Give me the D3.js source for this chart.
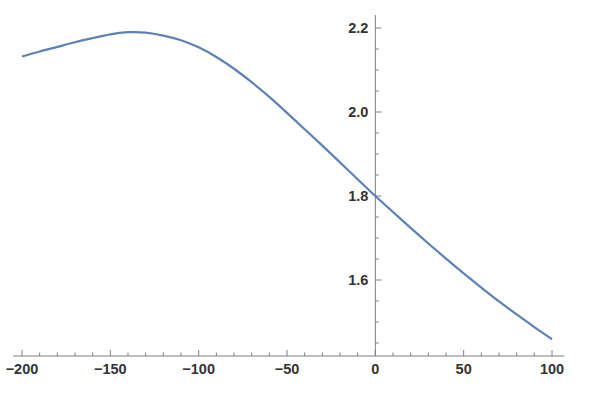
<!DOCTYPE html>
<html lang="en">
<head>
	<meta charset="UTF-8">
	<title>Curve</title>
	<script src="https://cdn.jsdelivr.net/npm/d3@7"></script>
	<style>
		body { margin: 0; background: #fff; }
		text { font-family: "Liberation Sans", Arial, sans-serif; font-weight: bold; font-size: 14.5px; fill: #333; }
	</style>
</head>
<body>
	<div id="container"></div>
	<script>
		var width = 607;
		var height = 404;

		// values, step 10
		var xs = [-200, -190, -180, -170, -160, -150, -140, -130, -120, -110, -100,
			-90, -80, -70, -60, -50, -40, -30, -20, -10, 0,
			10, 20, 30, 40, 50, 60, 70, 80, 90, 100];
		var ys = [2.132, 2.144, 2.155, 2.166, 2.176, 2.185, 2.190, 2.189, 2.182, 2.171, 2.154,
			2.131, 2.103, 2.071, 2.036, 1.998, 1.959, 1.920, 1.880, 1.840, 1.800,
			1.762, 1.724, 1.687, 1.651, 1.616, 1.582, 1.549, 1.518, 1.488, 1.459];
		var xMajor = [-200, -150, -100, -50, 0, 50, 100];
		var yMajor = [1.6, 1.8, 2.0, 2.2];

		var svg = d3.select("#container").append("svg")
				.attr("width", width)
				.attr("height", height);

		var x = d3.scaleLinear()
				.domain([-200, 100])
				.range([22, 552]);
		var y = d3.scaleLinear()
				.domain([1.6, 2.2])
				.range([280, 28]);

		var axisColor = "#7f7f7f";
		var x0 = x(0);
		var y0 = 356;

		// x axis
		svg.append("line")
				.attr("x1", x(-205)).attr("x2", x(107))
				.attr("y1", y0).attr("y2", y0)
				.attr("stroke", axisColor);
		var xMinor = d3.range(-200, 101, 10).filter(d => d % 50 != 0);
		svg.selectAll(".xminor").data(xMinor)
			.enter().append("line")
				.attr("x1", d => x(d)).attr("x2", d => x(d))
				.attr("y1", y0).attr("y2", y0 - 3.5)
				.attr("stroke", axisColor);
		svg.selectAll(".xmajor").data(xMajor)
			.enter().append("line")
				.attr("x1", d => x(d)).attr("x2", d => x(d))
				.attr("y1", y0).attr("y2", y0 - 6)
				.attr("stroke", axisColor);
		svg.selectAll(".xlabel").data(xMajor)
			.enter().append("text")
				.attr("x", d => x(d))
				.attr("y", y0 + 18)
				.attr("text-anchor", "middle")
				.text(d => d < 0 ? "\u2212" + Math.abs(d) : d);

		// y axis
		svg.append("line")
				.attr("x1", x0).attr("x2", x0)
				.attr("y1", y0).attr("y2", 15)
				.attr("stroke", axisColor);
		var yMinor = d3.range(1.45, 2.23, 0.05).filter(d => Math.abs(d * 5 - Math.round(d * 5)) > 0.01);
		svg.selectAll(".yminor").data(yMinor)
			.enter().append("line")
				.attr("x1", x0).attr("x2", x0 + 3.5)
				.attr("y1", d => y(d)).attr("y2", d => y(d))
				.attr("stroke", axisColor);
		svg.selectAll(".ymajor").data(yMajor)
			.enter().append("line")
				.attr("x1", x0).attr("x2", x0 + 6)
				.attr("y1", d => y(d)).attr("y2", d => y(d))
				.attr("stroke", axisColor);
		svg.selectAll(".ylabel").data(yMajor)
			.enter().append("text")
				.attr("x", x0 - 7)
				.attr("y", d => y(d) + 5)
				.attr("text-anchor", "end")
				.text(d => d.toFixed(1));

		// the curve
		var line = d3.line()
				.x((d, i) => x(xs[i]))
				.y(d => y(d))
				.curve(d3.curveNatural);
		svg.append("path")
				.attr("d", line(ys))
				.attr("fill", "none")
				.attr("stroke", "#5e81b5")
				.attr("stroke-width", 2.2);
	</script>
</body>
</html>
